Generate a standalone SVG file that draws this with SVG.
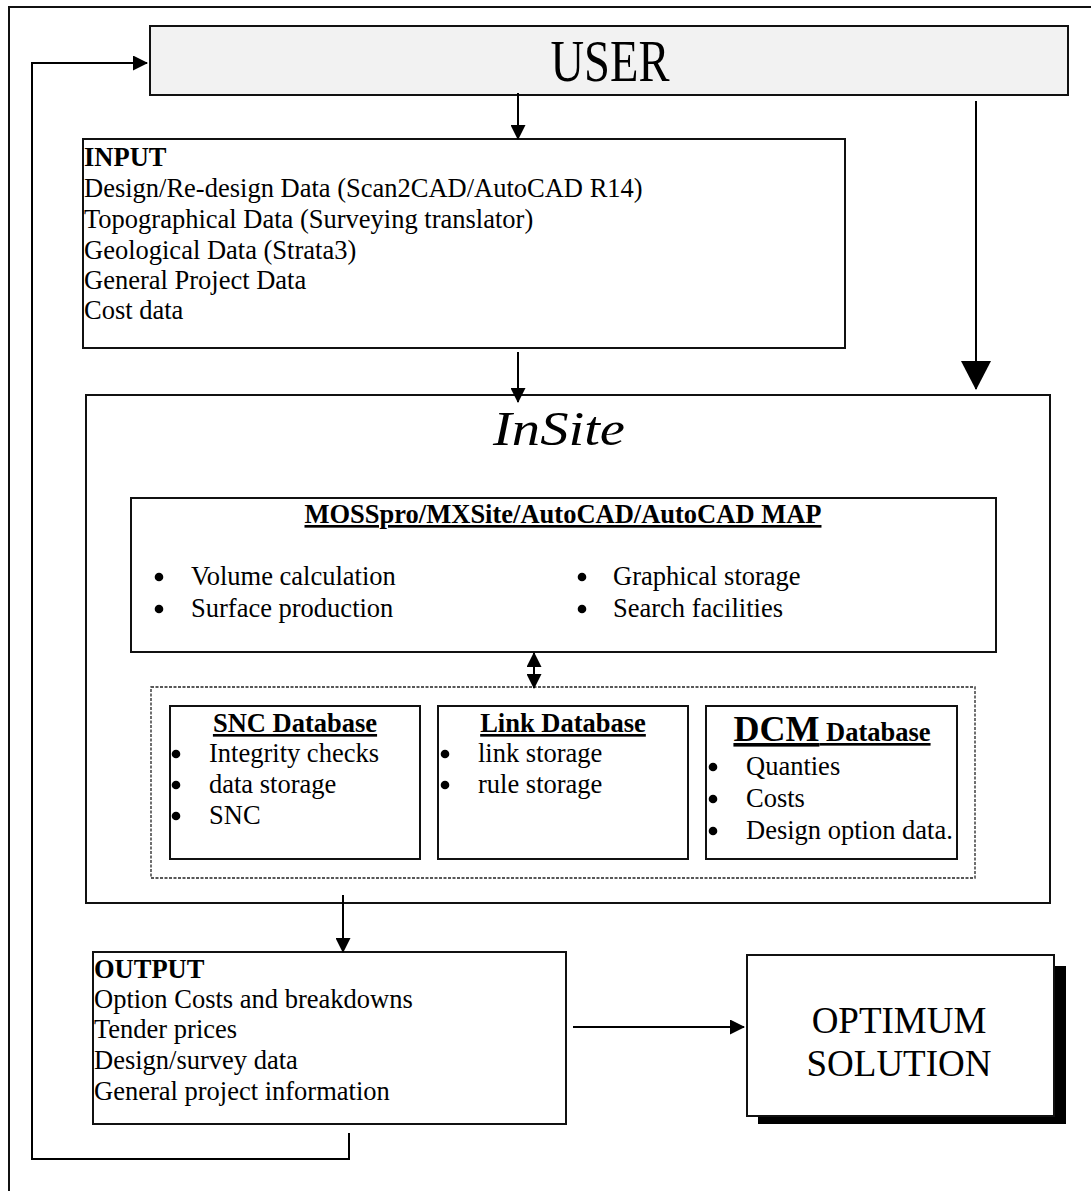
<svg xmlns="http://www.w3.org/2000/svg" width="1091" height="1191" viewBox="0 0 1091 1191">
<style>
  text { font-family: "Liberation Serif", "Times New Roman", serif; fill: #000; }
  .t { font-size: 26.5px; }
  .b { font-weight: bold; }
  .u { text-decoration: underline; }
  .box { fill: #fff; stroke: #111; stroke-width: 2; }
  .ln { fill: none; stroke: #000; stroke-width: 2; }
  .dot { fill: #000; }
</style>
<defs>
  <marker id="arr" markerUnits="userSpaceOnUse" markerWidth="15" markerHeight="15" refX="14" refY="7.5" orient="auto-start-reverse" viewBox="0 0 15 15">
    <path d="M0,0 L15,7.5 L0,15 z" fill="#000"/>
  </marker>
  <marker id="big" markerUnits="userSpaceOnUse" markerWidth="30" markerHeight="30" refX="28" refY="15" orient="auto" viewBox="0 0 30 30">
    <path d="M0,0 L29,15 L0,30 z" fill="#000"/>
  </marker>
</defs>
<rect width="1091" height="1191" fill="#fff"/>
<g id="frame">
  <rect x="9" y="7" width="1100" height="1200" fill="none" stroke="#111" stroke-width="2"/>
</g>
<g id="user">
  <rect x="150" y="26" width="918" height="69" fill="#f2f2f2" stroke="#111" stroke-width="2"/>
  <text x="610" y="81" font-size="60" text-anchor="middle" textLength="119" lengthAdjust="spacingAndGlyphs">USER</text>
</g>
<g id="input">
  <rect class="box" x="83" y="139" width="762" height="209"/>
  <text class="t b" x="84" y="166">INPUT</text>
  <text class="t" x="84" y="197">Design/Re-design Data (Scan2CAD/AutoCAD R14)</text>
  <text class="t" x="84" y="228">Topographical Data (Surveying translator)</text>
  <text class="t" x="84" y="259">Geological Data (Strata3)</text>
  <text class="t" x="84" y="289">General Project Data</text>
  <text class="t" x="84" y="319">Cost data</text>
</g>
<g id="insite">
  <rect class="box" x="86" y="395" width="964" height="508"/>
  <text x="559" y="445" font-size="48" font-style="italic" text-anchor="middle" textLength="132" lengthAdjust="spacingAndGlyphs">InSite</text>
</g>
<g id="mosspro">
  <rect class="box" x="131" y="498" width="865" height="154"/>
  <text class="t b u" x="563" y="523" text-anchor="middle">MOSSpro/MXSite/AutoCAD/AutoCAD MAP</text>
  <circle class="dot" cx="159" cy="577" r="4.3"/>
  <text class="t" x="191" y="585">Volume calculation</text>
  <circle class="dot" cx="159" cy="609" r="4.3"/>
  <text class="t" x="191" y="617">Surface production</text>
  <circle class="dot" cx="582" cy="577" r="4.3"/>
  <text class="t" x="613" y="585">Graphical storage</text>
  <circle class="dot" cx="582" cy="609" r="4.3"/>
  <text class="t" x="613" y="617">Search facilities</text>
</g>
<g id="databases">
  <rect x="151" y="687" width="824" height="191" fill="none" stroke="#222" stroke-width="1.3" stroke-dasharray="3 1.5"/>
</g>
<g id="snc">
  <rect class="box" x="170" y="706" width="250" height="153"/>
  <text class="t b u" x="295" y="732" text-anchor="middle">SNC Database</text>
  <circle class="dot" cx="176" cy="754" r="4.3"/>
  <text class="t" x="209" y="762">Integrity checks</text>
  <circle class="dot" cx="176" cy="785" r="4.3"/>
  <text class="t" x="209" y="793">data storage</text>
  <circle class="dot" cx="176" cy="816" r="4.3"/>
  <text class="t" x="209" y="824">SNC</text>
</g>
<g id="link">
  <rect class="box" x="438" y="706" width="250" height="153"/>
  <text class="t b u" x="563" y="732" text-anchor="middle">Link Database</text>
  <circle class="dot" cx="445" cy="754" r="4.3"/>
  <text class="t" x="478" y="762">link storage</text>
  <circle class="dot" cx="445" cy="785" r="4.3"/>
  <text class="t" x="478" y="793">rule storage</text>
</g>
<g id="dcm">
  <rect class="box" x="706" y="706" width="251" height="153"/>
  <text class="b u" x="832" y="741" text-anchor="middle"><tspan font-size="36">DCM</tspan><tspan font-size="26.5"> Database</tspan></text>
  <circle class="dot" cx="713" cy="767" r="4.3"/>
  <text class="t" x="746" y="775">Quanties</text>
  <circle class="dot" cx="713" cy="799" r="4.3"/>
  <text class="t" x="746" y="807">Costs</text>
  <circle class="dot" cx="713" cy="831" r="4.3"/>
  <text class="t" x="746" y="839">Design option data.</text>
</g>
<g id="output">
  <rect class="box" x="93" y="952" width="473" height="172"/>
  <text class="t b" x="94" y="978">OUTPUT</text>
  <text class="t" x="94" y="1008">Option Costs and breakdowns</text>
  <text class="t" x="94" y="1038">Tender prices</text>
  <text class="t" x="94" y="1069">Design/survey data</text>
  <text class="t" x="94" y="1100">General project information</text>
</g>
<g id="optimum">
  <rect x="758" y="966" width="308" height="158" fill="#000"/>
  <rect class="box" x="747" y="955" width="307" height="161"/>
  <text x="899" y="1033" font-size="37" text-anchor="middle">OPTIMUM</text>
  <text x="899" y="1076" font-size="37" text-anchor="middle">SOLUTION</text>
</g>
<g id="connectors">
  <line class="ln" x1="518" y1="93" x2="518" y2="139" marker-end="url(#arr)"/>
  <line class="ln" x1="976" y1="101" x2="976" y2="389" marker-end="url(#big)"/>
  <line class="ln" x1="518" y1="352" x2="518" y2="402" marker-end="url(#arr)"/>
  <line class="ln" x1="534" y1="653" x2="534" y2="688" marker-start="url(#arr)" marker-end="url(#arr)"/>
  <line class="ln" x1="343" y1="895" x2="343" y2="952" marker-end="url(#arr)"/>
  <line class="ln" x1="573" y1="1027" x2="744" y2="1027" marker-end="url(#arr)"/>
  <polyline class="ln" points="349,1133 349,1159 32,1159 32,63 147,63" marker-end="url(#arr)"/>
</g>
</svg>
